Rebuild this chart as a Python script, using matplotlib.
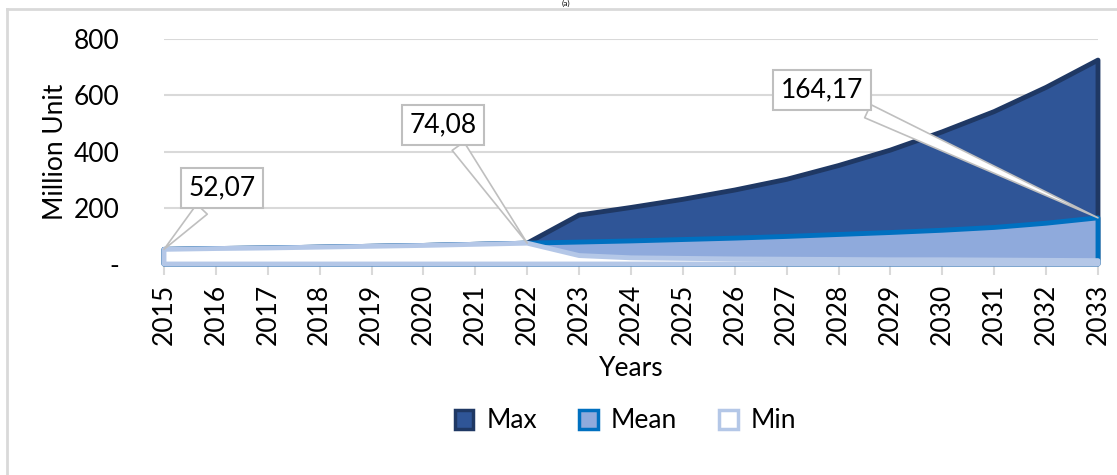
import matplotlib.pyplot as plt
from matplotlib.patches import Patch
import numpy as np

plt.rcParams['font.family'] = ['Lato', 'DejaVu Sans']

# données
years = np.arange(2015, 2034)
max_vals = [52.07, 55, 57, 60, 63, 66, 70, 74.08, 174, 201, 230, 263, 301, 350, 405, 470, 542, 628, 725]
mean_vals = [52.07, 55, 57, 60, 63, 66, 70, 74.08, 78, 82, 87, 92, 98, 105, 112, 120, 130, 145, 164.17]
min_vals = [52.07, 55, 57, 60, 63, 66, 70, 74.08, 30, 22, 20, 18, 17, 16, 15, 15, 14, 13, 12]
labels = ["52,07", "74,08", "164,17"]
label_years = [2015, 2022, 2033]
label_vals = [52.07, 74.08, 164.17]

grid_col = "#d9d9d9"
fs = 19

fig = plt.figure(figsize=(11.17, 4.75), dpi=100)
ax = fig.add_axes([164 / 1117, 1 - 264 / 475, (1098 - 164) / 1117, 225 / 475])

# cadre du graphique (gauche + haut)
fig.add_artist(plt.Line2D([7 / 1117, 7 / 1117], [0, 1 - 9 / 475], color=grid_col, lw=2))
fig.add_artist(plt.Line2D([7 / 1117, 1], [1 - 9 / 475, 1 - 9 / 475], color=grid_col, lw=2))
fig.text(566 / 1117, 1.0, "(a)", ha="center", va="top", fontsize=6)


def area(vals, fc, ec, label, z):
    xs = list(years) + [years[-1], years[0]]
    ys = list(vals) + [0, 0]
    ax.fill(xs, ys, facecolor=fc, edgecolor=ec, lw=3.5, joinstyle="round",
            clip_on=False, zorder=z, label=label)


area(max_vals, "#2f5597", "#1f3864", "Max", 3)
area(mean_vals, "#8faadc", "#0070c0", "Mean", 4)
area(min_vals, "white", "#b4c7e7", "Min", 5)

ax.set_xlim(2015, 2033)
ax.set_ylim(0, 800)
ax.set_yticks([0, 200, 400, 600, 800])
ax.set_yticklabels(["-", "200", "400", "600", "800"])
ax.set_xticks(years)
ax.set_xticklabels([str(y) for y in years], rotation=90)
ax.tick_params(axis="y", length=0, labelsize=fs, pad=32)
ax.tick_params(axis="x", length=8, width=1.5, color=grid_col, labelsize=fs, pad=6, direction="out")
ax.grid(axis="y", color=grid_col, lw=1.5, zorder=0)
ax.set_axisbelow(True)
for s in ["left", "right", "top"]:
    ax.spines[s].set_visible(False)
ax.spines["bottom"].set_color(grid_col)
ax.spines["bottom"].set_linewidth(1.5)
ax.spines["bottom"].set_zorder(2)

ax.set_ylabel("Million Unit", fontsize=fs)
ax.set_xlabel("Years", fontsize=fs)
ax.yaxis.set_label_coords(-0.103, 0.5)
ax.xaxis.set_label_coords(0.5, -0.41)

# étiquettes de données
text_pos = [(222, 287), (443, 350), (822, 385)]
for lab, yr, v, (tx, ty) in zip(labels, label_years, label_vals, text_pos):
    ax.annotate(lab, xy=(yr, v), xytext=(tx, ty), textcoords="figure pixels",
                fontsize=fs, ha="center", va="center", zorder=10,
                bbox=dict(boxstyle="square,pad=0.3", fc="white", ec="#bfbfbf", lw=1.5),
                arrowprops=dict(arrowstyle="wedge,tail_width=0.55",
                                fc="white", ec="#bfbfbf", lw=1.2, shrinkA=0, shrinkB=0))

handles = [Patch(facecolor="#2f5597", edgecolor="#1f3864", lw=2.5, label="Max"),
           Patch(facecolor="#8faadc", edgecolor="#0070c0", lw=2.5, label="Mean"),
           Patch(facecolor="white", edgecolor="#b4c7e7", lw=2.5, label="Min")]
fig.legend(handles=handles, loc="center", bbox_to_anchor=(0.56, 1 - 421 / 475), ncol=3,
           frameon=False, fontsize=fs, handlelength=0.7, handleheight=0.7,
           columnspacing=1.6, handletextpad=0.5)

fig.savefig("out.png", dpi=100)
